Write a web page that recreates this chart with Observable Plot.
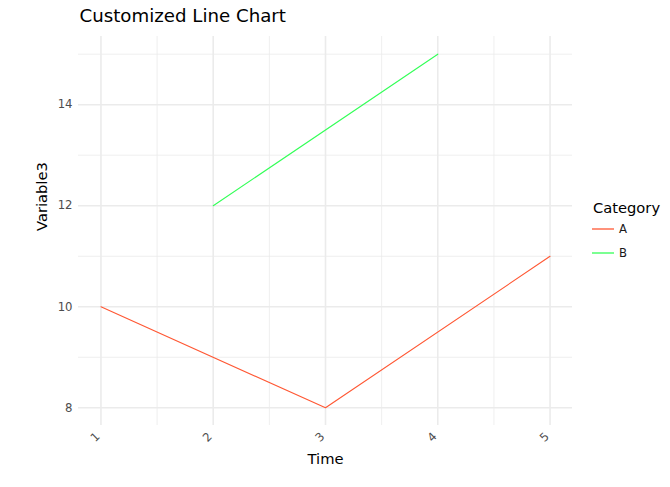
<!DOCTYPE html>
<html>
<head>
<meta charset="utf-8">
<script src="https://cdn.jsdelivr.net/npm/d3@7"></script>
<script src="https://cdn.jsdelivr.net/npm/@observablehq/plot@0.6"></script>
<style>
  html, body { margin: 0; padding: 0; background: #fff; }
  #wrap { position: relative; width: 670px; height: 487px; font-family: "DejaVu Sans", sans-serif; }
  #wrap svg.plot { position: absolute; left: 0; top: 0; }
  #legend { position: absolute; left: 0; top: 0; }
</style>
</head>
<body>
<div id="wrap"></div>
<script>
// ---- data ----
const categories = ["A", "B"];
const colors = ["#FF5733", "#33FF57"];
const timeA = [1, 3, 5];
const valueA = [10, 8, 11];
const timeB = [2, 4];
const valueB = [12, 15];
const xTicks = [1, 2, 3, 4, 5];
const xMinor = [1.5, 2.5, 3.5, 4.5];
const yTicks = [8, 10, 12, 14];
const yMinor = [9, 11, 13, 15];
const titleText = "Customized Line Chart";
const xLabel = "Time";
const yLabel = "Variable3";
const legendTitle = "Category";

const rows = [
  ...timeA.map((t, i) => ({Time: t, Variable3: valueA[i], Category: "A"})),
  ...timeB.map((t, i) => ({Time: t, Variable3: valueB[i], Category: "B"}))
];

const W = 670, H = 487;
const mL = 78, mR = 98, mT = 36, mB = 62;
const font = "DejaVu Sans, sans-serif";
const grid = "#EBEBEB";

const chart = Plot.plot({
  width: W, height: H,
  marginLeft: mL, marginRight: mR, marginTop: mT, marginBottom: mB,
  style: {fontFamily: font, background: "#fff", overflow: "visible"},
  x: {domain: [0.8, 5.2]},
  y: {domain: [7.65, 15.35]},
  color: {domain: categories, range: colors},
  marks: [
    Plot.ruleX(xMinor, {stroke: grid, strokeWidth: 0.8}),
    Plot.ruleY(yMinor, {stroke: grid, strokeWidth: 0.8}),
    Plot.ruleX(xTicks, {stroke: grid, strokeWidth: 1.6}),
    Plot.ruleY(yTicks, {stroke: grid, strokeWidth: 1.6}),
    Plot.axisY(yTicks, {tickSize: 0, tickPadding: 6, fontSize: 11.7, fill: "#4D4D4D", label: null, tickFormat: d => String(d)}),
    Plot.axisX(xTicks, {tickSize: 0, tickPadding: 9, dx: -3, tickRotate: -45, fontSize: 11.7, fill: "#4D4D4D", label: null, tickFormat: d => String(d)}),
    Plot.line(rows, {x: "Time", y: "Variable3", z: "Category", stroke: "Category", strokeWidth: 1.1}),
    Plot.text([titleText], {frameAnchor: "top-left", dx: 1, dy: -15, lineAnchor: "bottom", textAnchor: "start", fontSize: 18.2, fill: "#000"}),
    Plot.text([xLabel], {frameAnchor: "bottom", dy: 38, lineAnchor: "bottom", fontSize: 14.7, fill: "#000"}),
    Plot.text([yLabel], {frameAnchor: "left", dx: -32, rotate: -90, lineAnchor: "bottom", fontSize: 14.7, fill: "#000"})
  ]
});
chart.classList.add("plot");
document.getElementById("wrap").appendChild(chart);

// ---- legend ----
const ns = "http://www.w3.org/2000/svg";
const lg = document.createElementNS(ns, "svg");
lg.setAttribute("id", "legend");
lg.setAttribute("width", W);
lg.setAttribute("height", H);
lg.style.fontFamily = font;
const t = document.createElementNS(ns, "text");
t.setAttribute("x", 593); t.setAttribute("y", 212.5);
t.setAttribute("font-size", 14.7); t.textContent = legendTitle;
lg.appendChild(t);
categories.forEach((c, i) => {
  const y = 229 + i * 24;
  const l = document.createElementNS(ns, "line");
  l.setAttribute("x1", 592); l.setAttribute("x2", 614);
  l.setAttribute("y1", y); l.setAttribute("y2", y);
  l.setAttribute("stroke", colors[i]); l.setAttribute("stroke-width", 1.3);
  lg.appendChild(l);
  const tx = document.createElementNS(ns, "text");
  tx.setAttribute("x", 619); tx.setAttribute("y", y + 4);
  tx.setAttribute("font-size", 11.7); tx.setAttribute("fill", "#1a1a1a");
  tx.textContent = c;
  lg.appendChild(tx);
});
document.getElementById("wrap").appendChild(lg);
</script>
</body>
</html>
